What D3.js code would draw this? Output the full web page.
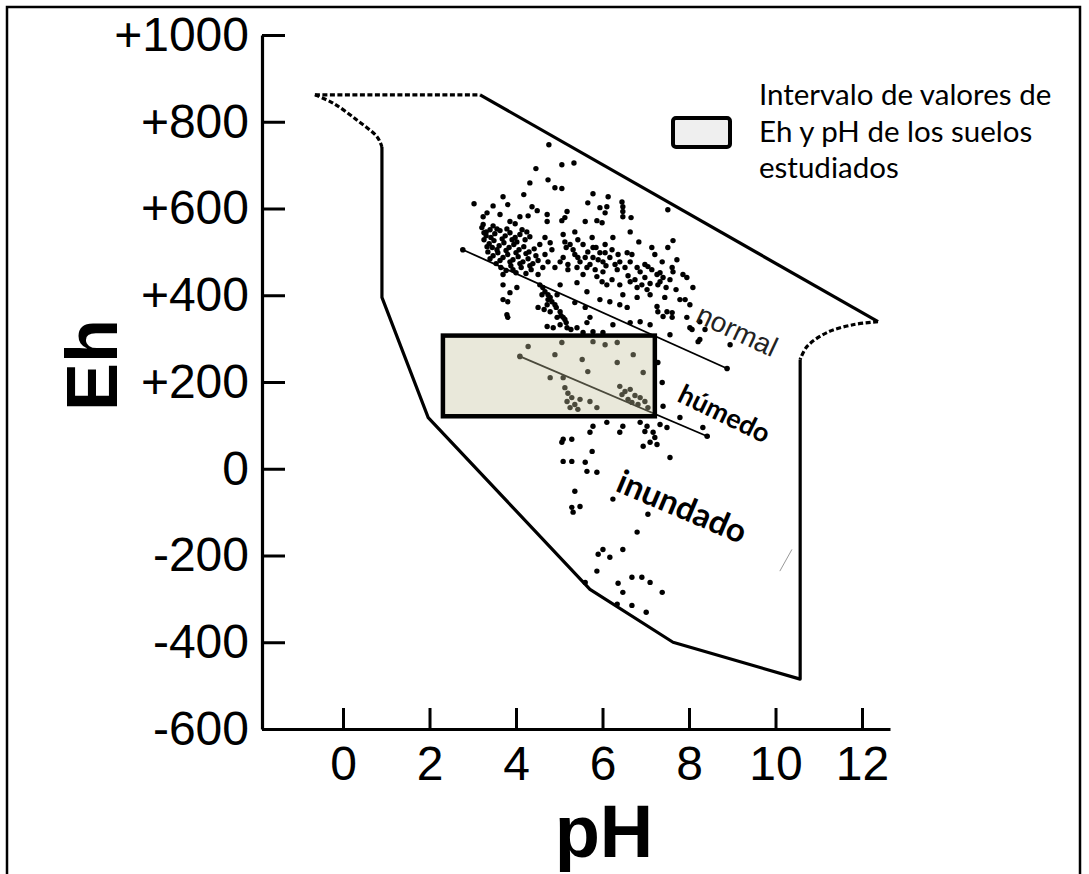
<!DOCTYPE html>
<html>
<head>
<meta charset="utf-8">
<script src="https://cdn.jsdelivr.net/npm/d3@7"></script>
<style>
  body { margin: 0; background: #fff; }
  svg { display: block; }
</style>
</head>
<body>
<script>
// ticks of both axes
var phTicks = [0, 2, 4, 6, 8, 10, 12];
var ehTicks = [-600, -400, -200, 0, 200, 400, 600, 800, 1000];
var ehLabels = ["-600", "-400", "-200", "0", "+200", "+400", "+600", "+800", "+1000"];

// limits of natural soils, [pH, Eh]
var limitTopDashed = [[-0.65, 862], [3.17, 862]];
var limitLeftDashed = [[-0.65, 862], [-0.23, 843], [0.32, 804], [0.79, 765], [0.9, 742]];
var limitTopSolid = [[3.17, 862], [12.37, 339]];
var limitRightDashed = [[12.37, 339], [11.79, 332], [11.19, 314], [10.73, 282], [10.57, 252]];
var limitSolid = [[10.57, 252], [10.57, -485], [7.63, -400], [5.71, -278], [1.97, 118], [0.9, 395], [0.9, 742]];

// regression lines
var normalLine = [[2.77, 505], [8.88, 231]];
var humedoLine = [[4.09, 259], [8.42, 75]];
var strayMark = [[10.10, -236], [10.38, -186]];

// range of the studied soils
var studiedPH = [2.31, 7.21];
var studiedEh = [121, 307];

// zone names, anchor at [pH, Eh]
var zoneNames = ["normal", "húmedo", "inundado"];
var zoneAnchors = [[8.12, 340], [7.70, 157], [6.27, -50]];

var legendLines = ["Intervalo de valores de", "Eh y pH de los suelos", "estudiados"];

// soil samples [pH, Eh]
var samples = [
  [4.76,747],[4.46,692],[5.06,701],[5.34,705],[4.74,666],[4.32,659],[4.90,648],[5.06,646],
  [4.18,632],[3.70,627],[3.03,611],[3.81,609],[3.47,606],[3.33,590],[3.24,581],[3.63,586],
  [4.37,604],[4.49,595],[4.09,581],[4.28,583],[4.72,586],[5.18,593],[5.13,579],[5.06,572],
  [4.72,570],[5.60,570],[5.87,572],[5.66,613],[5.78,634],[3.86,570],[3.98,565],[5.36,546],
  [3.24,563],[3.47,560],[6.13,627],[6.45,615],[6.47,604],[6.47,593],[6.47,581],[6.10,604],
  [6.06,590],[6.66,579],[6.64,546],[7.51,597],[6.24,533],[6.84,523],[7.14,510],[7.63,526],
  [7.51,510],[5.94,602],[5.99,567],[7.72,482],[7.61,464],[7.95,441],[8.09,418],[7.91,390],
  [7.61,360],[7.95,349],[8.25,298],[8.95,286],[8.07,321],
  [3.21,556],[3.31,546],[3.40,551],[3.51,542],[3.63,549],[3.75,537],[3.86,544],[3.98,533],
  [4.09,540],[4.21,528],[4.32,535],[3.26,528],[3.38,519],[3.49,526],[3.61,514],[3.72,521],
  [3.84,510],[3.95,517],[4.07,505],[4.18,512],[4.30,500],[4.42,507],[3.35,500],[3.47,491],
  [3.58,498],[3.70,487],[3.81,494],[3.93,482],[4.05,489],[4.16,477],[4.28,484],[4.39,473],
  [4.51,480],[3.54,473],[3.65,464],[3.88,468],[4.12,464],[4.35,459],[3.31,537],[3.45,510],
  [4.02,523],[4.25,546],[4.67,533],[4.79,521],[5.09,540],[5.13,523],[5.32,505],[5.09,487],
  [5.20,471],[5.41,464],[5.64,464],[5.76,533],[5.78,510],[4.51,448],[3.70,448],[3.93,459],
  [3.26,544],[3.42,533],[3.56,553],[3.68,530],[3.79,553],[3.91,528],[4.14,551],[3.33,512],
  [3.56,505],[3.77,503],[4.00,498],[4.23,496],[3.40,484],[3.63,480],[3.86,477],[4.09,473],
  [4.32,468],[4.46,491],[4.55,517],[4.62,464],[3.77,457],[4.00,452],[4.23,450],
  [6.06,498],[6.57,498],[6.68,494],[7.05,466],[6.87,454],[6.52,464],[6.34,459],[7.63,454],
  [7.33,452],[6.01,454],[5.25,517],[5.36,494],[5.48,477],[5.60,487],[5.71,471],[5.83,459],
  [5.43,528],[5.20,459],[5.55,448],[5.90,482],[5.02,477],[4.90,464],[4.74,477],[4.83,505],
  [4.67,494],[6.01,477],[6.17,487],[6.29,471],[6.40,477],[6.59,445],[6.75,436],[6.98,441],
  [6.22,436],[6.40,424],[7.21,494],[7.38,477],[7.56,436],[7.70,413],[7.79,390],[8.02,378],
  [8.25,339],[8.37,321],[7.44,395],[7.28,424],[5.94,498],
  [5.16,510],[5.55,517],[5.66,500],[5.85,510],[6.06,517],[6.22,505],[6.36,494],[5.78,487],
  [5.43,487],[6.08,468],[6.64,477],[6.80,464],[6.98,471],[7.14,459],[7.33,431],[7.47,418],
  [7.10,427],
  [3.70,424],[4.02,418],[3.86,406],[3.70,390],[3.81,385],[3.79,355],[3.81,349],[4.51,372],
  [4.72,378],[4.79,362],[4.95,349],[5.09,349],[5.02,332],[4.86,325],[4.72,328],[4.55,424],
  [4.67,408],[4.79,395],[4.90,378],[5.02,362],[5.13,344],[5.02,424],[5.41,429],[5.64,408],
  [5.36,383],[5.60,372],[5.71,349],[5.64,337],[5.41,325],[5.18,325],[5.87,443],[5.99,431],
  [6.10,424],[5.94,390],[6.17,385],[6.40,378],[6.57,372],[6.47,401],[6.80,395],[6.64,431],
  [6.80,418],[6.91,424],[7.03,413],[7.10,401],[7.26,374],[7.28,362],[7.40,351],[7.61,349],
  [7.49,362],[7.10,332],[6.87,339],[6.64,337],[6.24,332],[8.02,325],[8.21,293],[7.56,309],
  [7.86,448],[7.26,448],[7.40,441],[5.55,314],[5.78,316],[6.01,314],[4.60,401],[4.74,390],
  [4.62,418],[4.74,401],[4.83,385],[4.93,372],[5.04,353],[5.16,337],[5.27,321],[4.95,401],
  [4.65,367],
  [4.28,282],[5.06,291],[5.78,293],[6.06,286],[6.34,291],[4.90,263],[5.53,252],[5.66,224],
  [6.34,245],[6.71,263],[6.94,222],[4.79,210],[5.09,210],[5.71,155],[5.87,141],
  [5.13,187],[5.20,174],[5.29,164],[5.18,155],[5.36,148],[5.43,137],[5.25,141],[5.48,160],
  [6.40,190],[6.52,178],[6.64,183],[6.75,169],[6.87,164],[6.98,155],[6.59,160],[6.82,148],
  [7.05,141],[6.68,153],[6.45,171],
  [7.28,245],[7.38,199],[7.40,144],[7.79,118],[8.32,95],[6.87,107],[7.03,98],[7.17,84],
  [7.10,61],[7.26,56],[6.94,52],[7.49,95],[6.47,98],[6.40,84],[6.10,107],[5.78,98],
  [5.71,84],[5.09,68],[5.29,68],[5.06,61],[5.76,40],[5.09,17],[5.29,17],[5.60,15],
  [6.98,86],[7.21,72],[7.33,102],
  [5.64,-6],[5.87,-8],[7.56,26],[5.36,-52],[6.24,-70],[5.29,-89],[5.32,-100],[5.48,-87],
  [7.05,-105],[6.80,-146],[6.01,-186],[5.90,-197],[6.17,-204],[6.47,-186],[5.87,-236],
  [6.68,-250],[6.91,-250],[7.10,-262],[7.38,-285],[6.36,-264],[6.47,-285],[6.68,-315],
  [7.01,-331],[5.60,-262],[6.34,-312]
];

var width = 1089;
var height = 874;

var svg = d3.select("body").append("svg")
  .attr("width", width)
  .attr("height", height);

// frame round the figure
svg.append("rect")
  .attr("x", 7).attr("y", 7)
  .attr("width", 1073).attr("height", 900)
  .attr("fill", "none")
  .attr("stroke", "#000")
  .attr("stroke-width", 2.5);

// scales
var x = d3.scaleLinear().domain([-1.873, 12.647]).range([262, 890]);
var y = d3.scaleLinear().domain([-600, 1000]).range([729, 35]);

var line = d3.line()
  .x(function(d) { return x(d[0]); })
  .y(function(d) { return y(d[1]); });
var curve = d3.line()
  .curve(d3.curveCatmullRom)
  .x(function(d) { return x(d[0]); })
  .y(function(d) { return y(d[1]); });

// axes, ticks point inwards
var xAxis = d3.axisBottom(x)
  .tickValues(phTicks)
  .tickSizeInner(-21)
  .tickSizeOuter(0)
  .tickPadding(17)
  .tickFormat(function(d) { return d; });
var yAxis = d3.axisLeft(y)
  .tickValues(ehTicks)
  .tickSizeInner(-23)
  .tickSizeOuter(0)
  .tickPadding(13)
  .tickFormat(function(d, i) { return ehLabels[i]; });

var gx = svg.append("g")
  .attr("transform", "translate(0," + y(-600) + ")")
  .call(xAxis);
var gy = svg.append("g")
  .attr("transform", "translate(" + x(-1.873) + ",0)")
  .call(yAxis);

[gx, gy].forEach(function(g) {
  g.select(".domain").attr("stroke-width", 3.2);
  g.selectAll(".tick line").attr("stroke-width", 3);
  g.selectAll(".tick text")
    .attr("fill", "#000")
    .style("font-family", "'Liberation Sans', Arial, sans-serif")
    .style("font-size", "48px");
});

// axis titles
svg.append("text")
  .attr("transform", "translate(117,365) rotate(-90)")
  .attr("text-anchor", "middle")
  .style("font-family", "'Liberation Sans', Arial, sans-serif")
  .style("font-weight", "bold")
  .style("font-size", "72px")
  .text("Eh");

svg.append("text")
  .attr("x", 604).attr("y", 857)
  .attr("text-anchor", "middle")
  .style("font-family", "'Liberation Sans', Arial, sans-serif")
  .style("font-weight", "bold")
  .style("font-size", "74px")
  .text("pH");

// limits
var limits = svg.append("g")
  .attr("fill", "none")
  .attr("stroke", "#000")
  .attr("stroke-width", 3.2)
  .attr("stroke-linejoin", "round");

limits.append("path").attr("d", line(limitTopSolid));
limits.append("path").attr("d", line(limitSolid));
limits.append("path").attr("d", line(limitTopDashed)).attr("stroke-dasharray", "5,2.5");
limits.append("path").attr("d", curve(limitLeftDashed)).attr("stroke-dasharray", "5,2.5");
limits.append("path").attr("d", curve(limitRightDashed)).attr("stroke-dasharray", "5,2.5");

// samples
svg.append("g")
  .selectAll("circle")
  .data(samples)
  .enter().append("circle")
  .attr("cx", function(d) { return x(d[0]); })
  .attr("cy", function(d) { return y(d[1]); })
  .attr("r", 2.7)
  .attr("fill", "#000");

// lines through the clouds
[normalLine, humedoLine].forEach(function(l) {
  svg.append("path")
    .attr("d", line(l))
    .attr("fill", "none")
    .attr("stroke", "#000")
    .attr("stroke-width", 1.8);
  svg.append("g").selectAll("circle")
    .data(l).enter().append("circle")
    .attr("cx", function(d) { return x(d[0]); })
    .attr("cy", function(d) { return y(d[1]); })
    .attr("r", 2.8);
});

svg.append("path")
  .attr("d", line(strayMark))
  .attr("stroke", "#999")
  .attr("stroke-width", 1);

// studied range, laid over the points
svg.append("rect")
  .attr("x", x(studiedPH[0]))
  .attr("y", y(studiedEh[1]))
  .attr("width", x(studiedPH[1]) - x(studiedPH[0]))
  .attr("height", y(studiedEh[0]) - y(studiedEh[1]))
  .attr("fill", "#c5c39e")
  .attr("fill-opacity", 0.38)
  .attr("stroke", "#000")
  .attr("stroke-width", 4.5);

// zone names
var angles = [25, 26, 23];
var sizes = [28, 27, 33];
zoneNames.forEach(function(name, i) {
  svg.append("text")
    .attr("transform", "translate(" + x(zoneAnchors[i][0]) + "," + y(zoneAnchors[i][1]) + ") rotate(" + angles[i] + ")")
    .style("font-family", i === 0 ? "'Liberation Sans', Arial, sans-serif" : "Lato, 'Open Sans', sans-serif")
    .style("font-weight", i === 0 ? "normal" : "bold")
    .style("font-size", sizes[i] + "px")
    .attr("fill", i === 0 ? "#222" : "#000")
    .text(name);
});

// legend
svg.append("rect")
  .attr("x", 673).attr("y", 118)
  .attr("width", 57).attr("height", 29)
  .attr("rx", 3)
  .attr("fill", "#efefef")
  .attr("stroke", "#000")
  .attr("stroke-width", 4);

svg.append("g")
  .selectAll("text")
  .data(legendLines)
  .enter().append("text")
  .attr("x", 759)
  .attr("y", function(d, i) { return 105 + i * 36.5; })
  .style("font-family", "Lato, 'Open Sans', sans-serif")
  .style("font-size", "29.5px")
  .text(function(d) { return d; });
</script>
</body>
</html>
